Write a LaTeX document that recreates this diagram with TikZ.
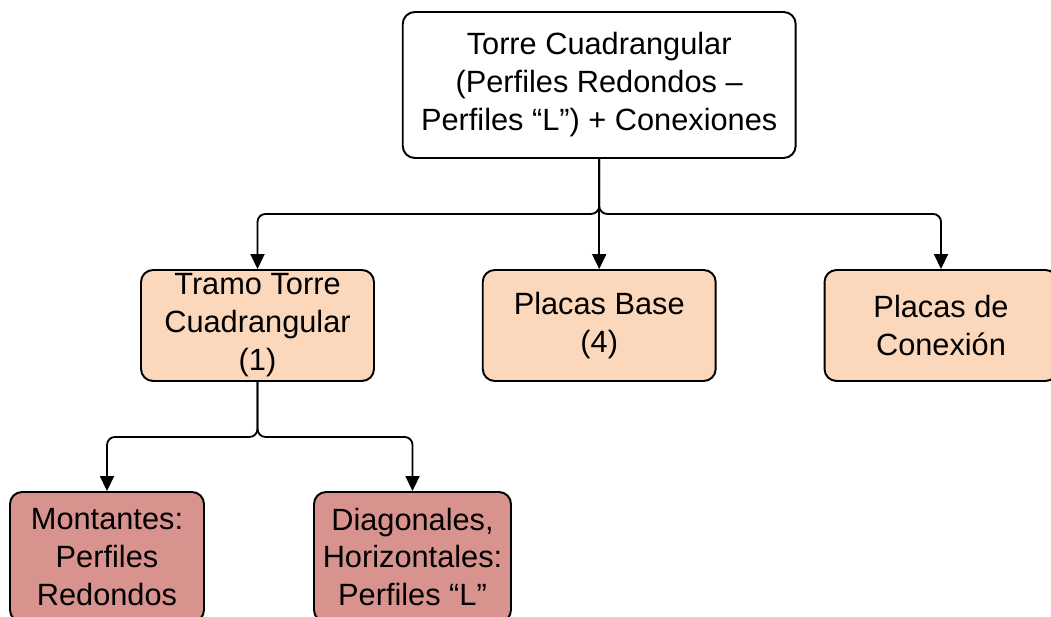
\documentclass[tikz,border=0pt]{standalone}
\usepackage{fontspec}
\setmainfont{Liberation Sans}
\usetikzlibrary{arrows.meta}
\definecolor{tramofill}{HTML}{FBD7BB}
\definecolor{perfilfill}{HTML}{D9938E}
\tikzset{
  box/.style={draw, line width=1.1pt, rounded corners=0.24cm, align=center, inner sep=0pt,
    font=\fontsize{17.5pt}{21.6pt}\selectfont, execute at begin node={\rule{0pt}{20.5pt}}},
  midbox/.style={box, fill=tramofill, minimum width=4.66cm, minimum height=2.22cm},
  lowbox/.style={box, fill=perfilfill, minimum height=2.6cm},
  link/.style={line width=1.05pt, rounded corners=0.16cm, -{Triangle[length=0.3cm, width=0.28cm]}},
}
\begin{document}
\begin{tikzpicture}[x=0.02cm, y=-0.02cm]
  \useasboundingbox (0,0) rectangle (1051,617);
  % top level
  \node[box, fill=white, minimum width=7.86cm, minimum height=2.92cm] (torre) at (599.2,85)
    {Torre Cuadrangular\\(Perfiles Redondos –\\Perfiles “L”) + Conexiones};
  % second level
  \node[midbox] (tramo) at (257.5,325.5) {Tramo Torre\\Cuadrangular\\(1)};
  \node[midbox] (base) at (599.2,325.5) {Placas Base\\(4)};
  \node[midbox] (conexion) at (941,325.5) {Placas de\\Conexión};
  % third level
  \node[lowbox, minimum width=3.88cm] (montantes) at (107,557) {Montantes:\\Perfiles\\Redondos};
  \node[lowbox, minimum width=3.94cm] (diagonales) at (412.5,557) {Diagonales,\\Horizontales:\\Perfiles “L”};
  % connectors
  \draw[link] (torre.south) -- ++(0,55) -| (tramo.north);
  \draw[link] (torre.south) -- (base.north);
  \draw[link] (torre.south) -- ++(0,55) -| (conexion.north);
  \draw[link] (tramo.south) -- ++(0,55) -| (montantes.north);
  \draw[link] (tramo.south) -- ++(0,55) -| (diagonales.north);
\end{tikzpicture}
\end{document}
